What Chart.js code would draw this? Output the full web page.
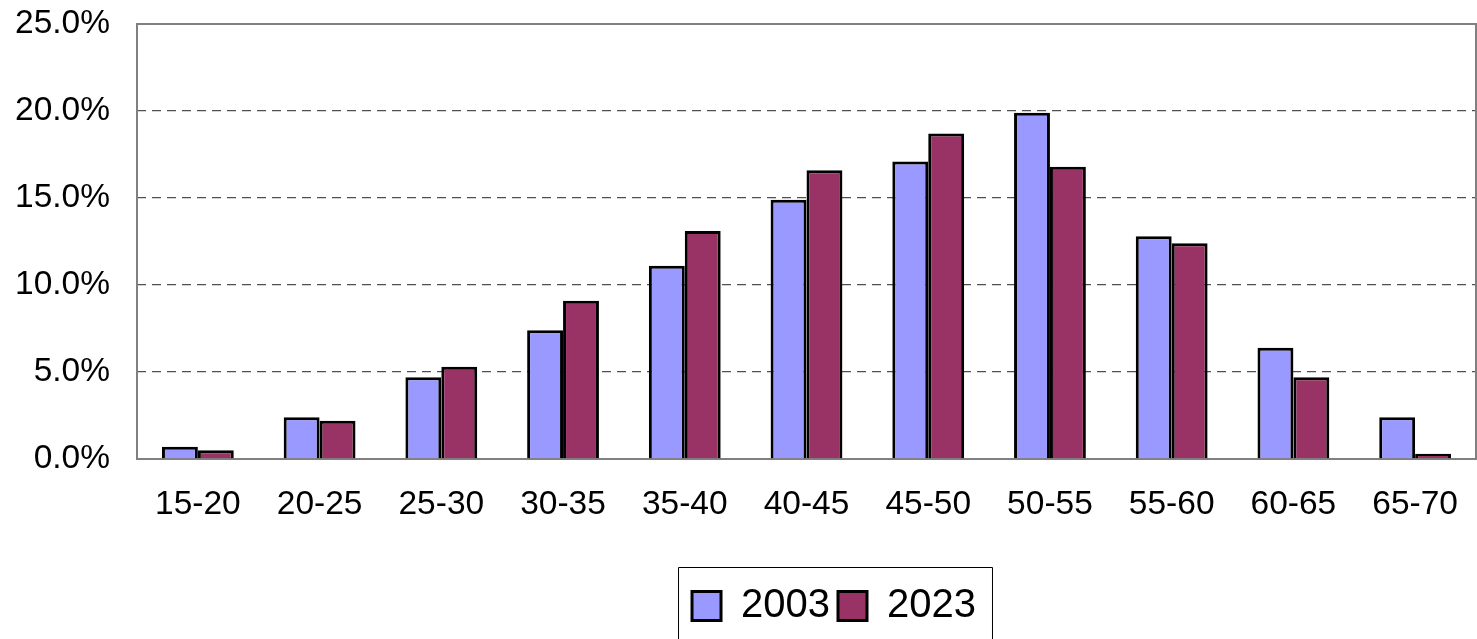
<!DOCTYPE html>
<html>
<head>
<meta charset="utf-8">
<script src="https://cdn.jsdelivr.net/npm/chart.js@4/dist/chart.umd.min.js"></script>
<style>
  html, body { margin: 0; padding: 0; background: #fff; }
  #wrap { width: 1477px; height: 639px; position: relative; }
</style>
</head>
<body>
<div id="wrap"><canvas id="c" width="1477" height="639"></canvas></div>
<script>
const categories = ['15-20','20-25','25-30','30-35','35-40','40-45','45-50','50-55','55-60','60-65','65-70'];
const seriesNames = ['2003', '2023'];
const values2003 = [0.7, 2.4, 4.7, 7.4, 11.1, 14.9, 17.1, 19.9, 12.8, 6.4, 2.4];
const values2023 = [0.5, 2.2, 5.3, 9.1, 13.1, 16.6, 18.7, 16.8, 12.4, 4.7, 0.3];
const yTicks = [0, 5, 10, 15, 20, 25];

const FONT = '"Liberation Sans", Arial, sans-serif';
const AREA_LEFT = 137, AREA_TOP = 24, AREA_BOTTOM = 459;

const framePlugin = {
  id: 'frame',
  beforeDatasetsDraw(chart) {
    const {ctx, chartArea: a} = chart;
    ctx.save();
    ctx.strokeStyle = '#808080';
    ctx.lineWidth = 2;
    ctx.strokeRect(a.left, a.top, a.right - a.left, a.bottom - a.top);
    ctx.restore();
  }
};

const legendShiftPlugin = {
  id: 'legendShift',
  afterLayout(chart) {
    const lg = chart.legend;
    if (!lg) return;
    const dx = 96, dy = -3;
    lg.left += dx; lg.right += dx;
    lg.top += dy; lg.bottom += dy;
    if (lg.legendHitBoxes) lg.legendHitBoxes.forEach(b => { b.left += dx; b.top += dy; });
  },
  afterDraw(chart) {
    const lg = chart.legend;
    if (!lg || !lg.legendHitBoxes || !lg.legendHitBoxes.length) return;
    const boxes = lg.legendHitBoxes;
    const first = boxes[0], last = boxes[boxes.length - 1];
    const left = first.left - 14;
    const right = last.left + last.width + 16;
    const top = 567;
    const {ctx} = chart;
    ctx.save();
    ctx.strokeStyle = '#000';
    ctx.lineWidth = 1;
    ctx.beginPath();
    ctx.moveTo(left + 0.5, chart.height + 2);
    ctx.lineTo(left + 0.5, top + 0.5);
    ctx.lineTo(right + 0.5, top + 0.5);
    ctx.lineTo(right + 0.5, chart.height + 2);
    ctx.stroke();
    ctx.restore();
  }
};

new Chart(document.getElementById('c'), {
  type: 'bar',
  data: {
    labels: categories,
    datasets: [
      { label: seriesNames[0], data: values2003, backgroundColor: '#9999FF', borderColor: '#000', borderWidth: 3 },
      { label: seriesNames[1], data: values2023, backgroundColor: '#993366', borderColor: '#000', borderWidth: 3 }
    ]
  },
  options: {
    responsive: false,
    animation: false,
    devicePixelRatio: 1,
    layout: { padding: { left: 0, right: 1, top: AREA_TOP, bottom: 0 } },
    datasets: { bar: { barPercentage: 1.0, categoryPercentage: 0.59 } },
    scales: {
      x: {
        grid: { display: false, drawTicks: false },
        border: { display: false },
        ticks: { color: '#000', font: { family: FONT, size: 33.5 }, padding: 26, maxRotation: 0 },
        afterFit(scale) {
          const lh = scale.chart.legend ? scale.chart.legend.height : 0;
          scale.height = scale.chart.height - AREA_BOTTOM - lh;
          scale.paddingLeft = 0; scale.paddingRight = 0;
        }
      },
      y: {
        min: 0, max: 25,
        afterBuildTicks(scale) { scale.ticks = yTicks.map(v => ({ value: v })); },
        afterFit(scale) {
          scale.width = AREA_LEFT;
          scale.paddingTop = 0; scale.paddingBottom = 0;
        },
        grid: {
          drawTicks: false,
          color: (c) => (c.tick && (c.tick.value === 0 || c.tick.value === 25)) ? 'rgba(0,0,0,0)' : '#505050',
          lineWidth: 1.3
        },
        border: { display: false, dash: [9, 6] },
        ticks: {
          color: '#000', font: { family: FONT, size: 33.5 }, padding: 27,
          callback: (v) => Number(v).toFixed(1) + '%'
        }
      }
    },
    plugins: {
      legend: {
        position: 'bottom',
        labels: {
          color: '#000',
          font: { family: FONT, size: 40 },
          boxWidth: 29, boxHeight: 29,
          padding: 8,
          generateLabels(chart) {
            return chart.data.datasets.map((d, i) => ({
              text: d.label, fillStyle: d.backgroundColor, strokeStyle: '#000',
              lineWidth: 3, hidden: false, datasetIndex: i, fontColor: '#000'
            }));
          }
        }
      },
      tooltip: { enabled: false }
    }
  },
  plugins: [framePlugin, legendShiftPlugin]
});
</script>
</body>
</html>
